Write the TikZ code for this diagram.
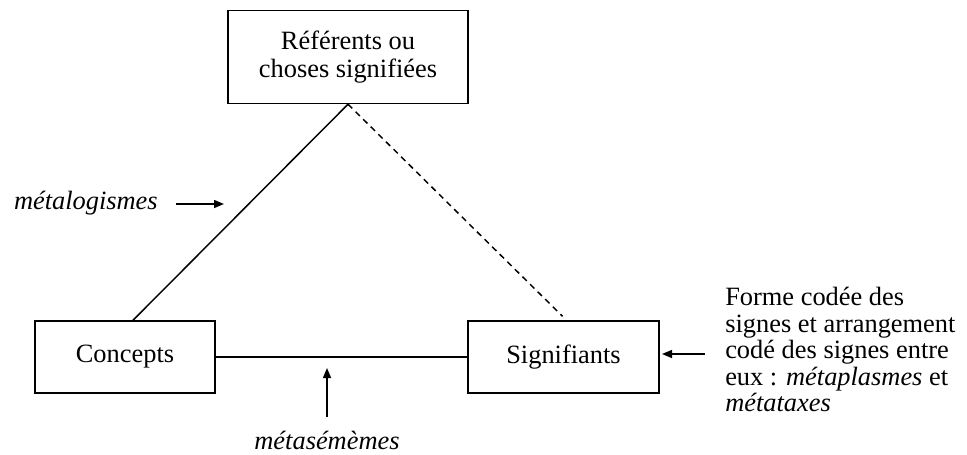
\documentclass[tikz,border=0pt]{standalone}
\usepackage{fontspec}
\setmainfont{Liberation Serif}
\usetikzlibrary{arrows.meta,calc}
\begin{document}
\begin{tikzpicture}[x=0.75pt,y=-0.75pt,
  box/.style={draw,line width=1.1pt,inner sep=0pt,align=center,
    font=\fontsize{19.8}{21}\selectfont},
  lbl/.style={inner sep=0pt,font=\fontsize{19.8}{19.9}\selectfont},
  conn/.style={line width=1.1pt},
  pointer/.style={line width=1.1pt,-{Triangle[length=7.5pt,width=6pt]}}]
\useasboundingbox (0,0) rectangle (967,454);
\node[box,minimum width={240*0.75pt},minimum height={93*0.75pt}] (ref) at (348,57)
  {Référents ou\\choses signifiées};
\node[box,minimum width={180*0.75pt},minimum height={72*0.75pt}] (conc) at (125,357) {Concepts};
\node[box,minimum width={191*0.75pt},minimum height={72*0.75pt}] (sig) at (563.5,357) {Signifiants};
\coordinate (cend) at ($(conc.north)+(8,0)$);
\coordinate (send) at ($(sig.north)+(-1,-4)$);
\draw[conn] (ref.south) -- (cend);
\draw[conn,dash pattern=on 4.5pt off 3.5pt] (ref.south) -- (send);
\draw[conn] (conc.east) -- (sig.west);
% labels
\node[lbl,anchor=base east] (metalog) at (158,209) {\itshape métalogismes};
\coordinate (mlS) at (176,204);
\coordinate (mlA) at (224,204);
\draw[pointer] (mlS) -- (mlA);
\node[lbl,anchor=base] (metasem) at (327,449) {\itshape métasémèmes};
\coordinate (msS) at (327,417);
\coordinate (msA) at (327,368);
\draw[pointer] (msS) -- (msA);
\node[lbl,anchor=north west,align=left] (forme) at (725,287)
  {Forme codée des\\signes et arrangement\\codé des signes entre\\eux : \textit{métaplasmes} et\\\textit{métataxes}};
\coordinate (fS) at (705,354);
\coordinate (fA) at (662,354);
\draw[pointer] (fS) -- (fA);
\end{tikzpicture}
\end{document}
